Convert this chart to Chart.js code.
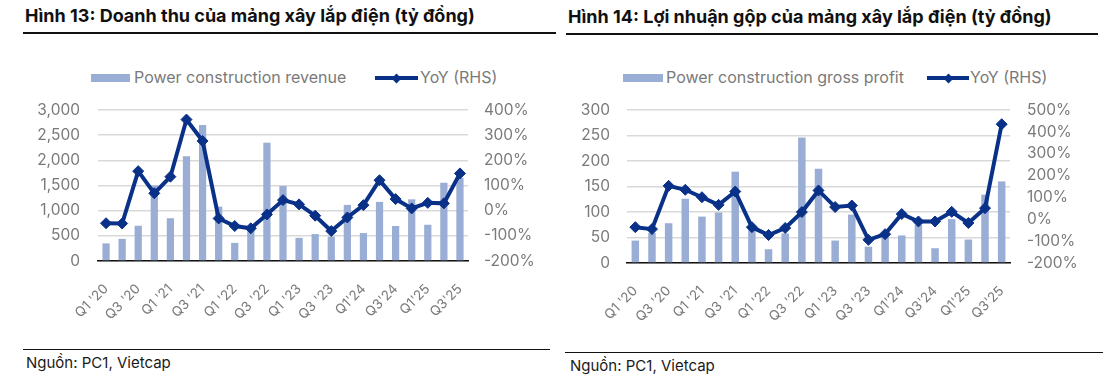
<!DOCTYPE html>
<html>
<head>
<meta charset="utf-8">
<script src="https://cdn.jsdelivr.net/npm/chart.js@4"></script>
<style>
  html,body{margin:0;padding:0;background:#fff;}
  body{width:1115px;height:382px;position:relative;overflow:hidden;font-family:Inter,"Noto Sans",sans-serif;}
  .abs{position:absolute;}
  .title{font-weight:700;font-size:18px;color:#111;white-space:nowrap;line-height:20px;}
  .rule{height:1.5px;background:#111;}
  .leg{font-size:16px;color:#7a7a7a;white-space:nowrap;line-height:16px;}
  .sw{background:#9aadd4;height:8px;}
  .ln{height:4px;background:#0a3188;}
  .dm{width:7px;height:7px;background:#0a3188;transform:rotate(45deg);}
  .src{font-size:15px;color:#1a1a1a;white-space:nowrap;line-height:16px;}
  canvas{position:absolute;}
</style>
</head>
<body>
<div class="abs title" style="left:25px;top:6px;">Hình 13: Doanh thu của mảng xây lắp điện (tỷ đồng)</div>
<div class="abs rule" style="left:23px;top:32px;width:533px;"></div>
<div class="abs title" style="left:568px;top:7px;">Hình 14: Lợi nhuận gộp của mảng xây lắp điện (tỷ đồng)</div>
<div class="abs rule" style="left:566px;top:33px;width:532px;"></div>

<div class="abs sw" style="left:91px;top:74px;width:39px;"></div>
<div class="abs leg" style="left:134px;top:69px;">Power construction revenue</div>
<div class="abs ln" style="left:375px;top:76px;width:43px;"></div>
<div class="abs dm" style="left:393px;top:74.5px;"></div>
<div class="abs leg" style="left:420px;top:69px;">YoY (RHS)</div>

<div class="abs sw" style="left:623px;top:74px;width:40px;"></div>
<div class="abs leg" style="left:666px;top:69px;">Power construction gross profit</div>
<div class="abs ln" style="left:927px;top:76px;width:42px;"></div>
<div class="abs dm" style="left:944.5px;top:74.5px;"></div>
<div class="abs leg" style="left:970px;top:69px;">YoY (RHS)</div>

<canvas id="c1" width="557" height="245" style="left:0;top:95px;"></canvas>
<canvas id="c2" width="558" height="245" style="left:557px;top:95px;"></canvas>

<div class="abs rule" style="left:23px;top:348.5px;width:527px;"></div>
<div class="abs src" style="left:26px;top:355px;">Nguồn: PC1, Vietcap</div>
<div class="abs rule" style="left:565px;top:351.5px;width:538px;"></div>
<div class="abs src" style="left:570px;top:358px;">Nguồn: PC1, Vietcap</div>

<script>
// ---- data ----
const quarters = ["Q1 '20","Q2 '20","Q3 '20","Q4 '20","Q1 '21","Q2 '21","Q3 '21","Q4 '21",
  "Q1 '22","Q2 '22","Q3 '22","Q4 '22","Q1 '23","Q2 '23","Q3 '23","Q4 '23",
  "Q1'24","Q2'24","Q3'24","Q4'24","Q1'25","Q2'25","Q3'25"];
const revenue = [350, 440, 700, 1500, 850, 2080, 2700, 1080, 360, 640, 2350, 1490,
  460, 535, 485, 1115, 555, 1175, 695, 1225, 720, 1555, 1650];
const revenueYoY = [-50, -51, 157, 69, 135, 362, 277, -31, -61, -70, -15, 42,
  25, -20, -81, -27, 22, 121, 46, 9, 31, 29, 148];
const grossProfit = [44, 59, 78, 126, 91, 99, 179, 68, 27, 58, 246, 185,
  44, 95, 32, 52, 54, 75, 29, 86, 46, 134, 160];
const grossProfitYoY = [-36, -45, 153, 135, 101, 66, 127, -36, -72, -40, 33, 132,
  56, 63, -94, -68, 24, -10, -10, 34, -17, 51, 435];
const revenueTicks = {min: 0, max: 3000, step: 500};
const revYoYTicks = {min: -200, max: 400, step: 100};
const gpTicks = {min: 0, max: 300, step: 50};
const gpYoYTicks = {min: -200, max: 500, step: 100};

const BAR = '#9aadd4', LINE = '#0a3188', TICK = '#7a7a7a';
const tickFont = {family: 'Inter', size: 15.5};

function fixY(width) {
  return s => { s.width = width; s.paddingTop = 8; s.paddingBottom = 8; };
}

function makeChart(id, barLabel, bars, yoy, lt, rt, dims) {
  return new Chart(document.getElementById(id), {
    data: {
      labels: quarters,
      datasets: [
        {type: 'line', label: 'YoY (RHS)', data: yoy, yAxisID: 'y1', order: 0,
         borderColor: LINE, backgroundColor: LINE, borderWidth: 4, tension: 0,
         pointStyle: 'rectRot', pointRadius: 5.5, pointBackgroundColor: LINE,
         pointBorderColor: LINE, pointBorderWidth: 1},
        {type: 'bar', label: barLabel, data: bars, yAxisID: 'y', order: 1,
         backgroundColor: BAR, categoryPercentage: 1, barPercentage: 0.45}
      ]
    },
    options: {
      responsive: false, animation: false, devicePixelRatio: 1,
      layout: {padding: {top: 15, left: 0, right: 0, bottom: 0}},
      plugins: {legend: {display: false}, tooltip: {enabled: false}},
      scales: {
        x: {
          offset: true,
          grid: {display: false, drawTicks: false},
          border: {display: true, color: '#111', width: 1.5},
          ticks: {autoSkip: false, minRotation: 45, maxRotation: 45, padding: 20,
                  color: TICK, font: {family: 'Inter', size: 13.5},
                  callback: (v, i) => (i % 2 === 0 ? quarters[i] : '')},
          afterFit: s => { s.height = dims.xh; }
        },
        y: {
          position: 'left', min: lt.min, max: lt.max,
          grid: {color: '#d9d9d9', lineWidth: 1.5, drawTicks: false},
          border: {display: false},
          ticks: {stepSize: lt.step, autoSkip: false, padding: dims.lp, color: TICK, font: tickFont,
                  callback: v => v.toLocaleString('en-US')},
          afterFit: fixY(dims.lw)
        },
        y1: {
          position: 'right', min: rt.min, max: rt.max,
          grid: {display: false, drawTicks: false},
          border: {display: false},
          ticks: {stepSize: rt.step, autoSkip: false, padding: dims.rp, color: TICK, font: tickFont,
                  callback: v => v + '%'},
          afterFit: fixY(dims.rw)
        }
      }
    }
  });
}

makeChart('c1', 'Power construction revenue', revenue, revenueYoY, revenueTicks, revYoYTicks,
  {xh: 79, lw: 98, lp: 18, rw: 89, rp: 16});
makeChart('c2', 'Power construction gross profit', grossProfit, grossProfitYoY, gpTicks, gpYoYTicks,
  {xh: 77, lw: 70, lp: 17, rw: 105, rp: 17});
</script>
</body>
</html>
